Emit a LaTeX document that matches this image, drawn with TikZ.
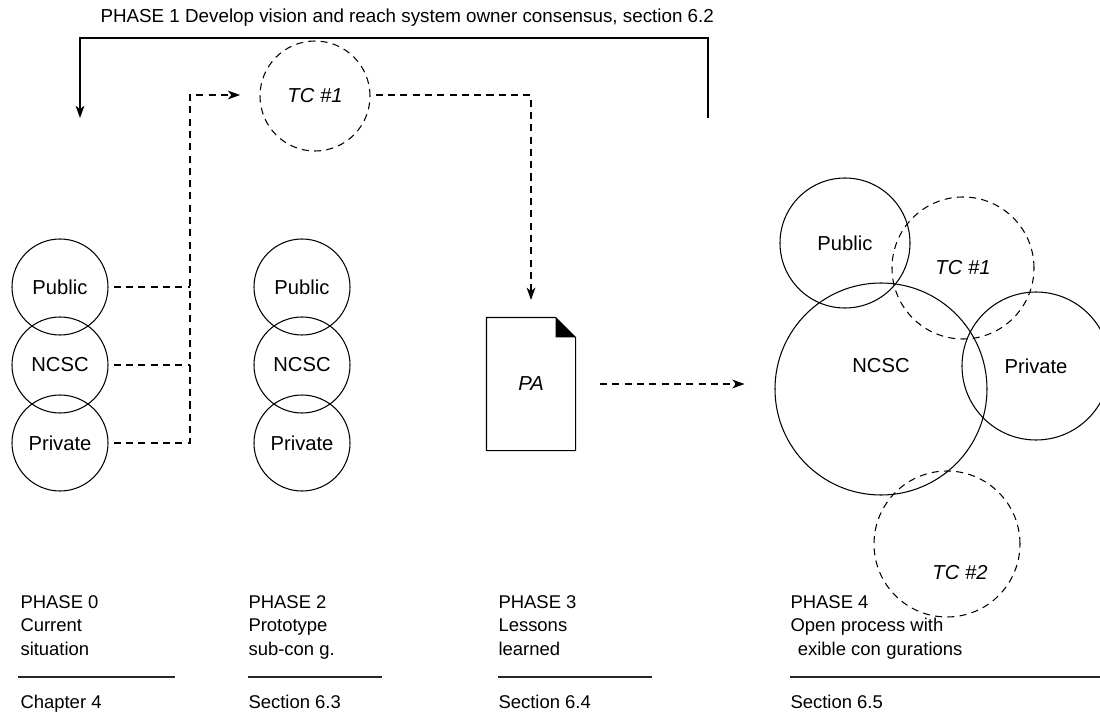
\documentclass[tikz,border=0pt]{standalone}
\usepackage{fontspec}
\setmainfont{Liberation Sans}
\usetikzlibrary{positioning,arrows.meta,calc}
\newcommand{\PartySize}{96}

\begin{document}
\begin{tikzpicture}[x=0.02cm,y=-0.02cm,line width=0.6pt,
		party/.style={circle,draw,inner sep=0pt,minimum size=\PartySize*0.02cm,font=\fontsize{11.5}{14}\selectfont},
		team/.style={party,dash pattern=on 4pt off 3pt},
		link/.style={dash pattern=on 4pt off 3pt},
		flow/.style={link,-{Stealth[length=7pt,width=5pt,inset=2pt]}},
		loop/.style={-{Stealth[length=7pt,width=5pt,inset=2pt]}},
		phase/.style={align=left,anchor=north west,inner sep=0pt,font=\fontsize{10.5}{13.3}\selectfont},
		rule/.style={line width=1pt,draw=black!85}]
	\useasboundingbox (0,0) rectangle (1100,720);
	\node[anchor=west,inner sep=0pt,font=\fontsize{10.7}{12}\selectfont] (title) at (100,18) {PHASE 1 Develop vision and reach system owner consensus, section 6.2};
	\coordinate (loopR) at (708,118);
	\coordinate (loopL) at (80,118);
	\draw[loop] (loopR) -- (loopR |- 0,38) -- (loopL |- 0,38) -- (loopL);

	\node[party] (pub0) at (60,287) {Public};
	\node[party] (ncsc0) at (60,365) {NCSC};
	\node[party] (priv0) at (60,443) {Private};

	\node[team,minimum size=110*0.02cm] (tc0) at (315,96) {\textit{TC \#1}};
	\node[party] (pub2) at (302,287) {Public};
	\node[party] (ncsc2) at (302,365) {NCSC};
	\node[party] (priv2) at (302,443) {Private};

	\node[minimum width=88*0.02cm,minimum height=132*0.02cm,inner sep=0pt,font=\fontsize{11.5}{14}\selectfont] (pa) at (531,384) {\textit{PA}};
	\draw (pa.north west) -- ($(pa.north east)+(-20,0)$) -- ($(pa.north east)+(0,20)$) -- (pa.south east) -- (pa.south west) -- cycle;
	\fill ($(pa.north east)+(-20,0)$) -- ($(pa.north east)+(0,20)$) -- ($(pa.north east)+(-20,20)$) -- cycle;

	\node[party,minimum size=212*0.02cm,text depth=48*0.02cm] (ncsc4) at (881,389) {NCSC};
	\node[party,minimum size=130*0.02cm] (pub4) at (845,243) {Public};
	\node[team,minimum size=142*0.02cm] (tc41) at (963,268) {\textit{TC \#1}};
	\node[party,minimum size=148*0.02cm] (priv4) at (1036,366) {Private};
	\node[team,minimum size=146*0.02cm] (tc42) at (947,544) {};
	\node[font=\fontsize{11.5}{14}\selectfont] (tc42text) at ($(tc42)+(13,29)$) {\textit{TC \#2}};

	\coordinate (bus) at (190,95);
	\draw[link,shorten <=3pt] (pub0.east) -- (pub0.east -| bus);
	\draw[link,shorten <=3pt] (ncsc0.east) -- (ncsc0.east -| bus);
	\draw[flow,shorten <=3pt,shorten >=11pt] (priv0.east) -| (bus) -- (bus -| tc0.west);
	\draw[flow,shorten <=3pt,shorten >=10pt] (bus -| tc0.east) -| (pa.north);
	\draw[flow,shorten <=14pt,shorten >=17pt] (pa.east) -- (pa.east -| ncsc4.west);

	\node[phase] (ph0) at (20,595) {PHASE 0\\Current\\situation};
	\node[phase] (ph2) at (248,595) {PHASE 2\\Prototype\\sub-con g.};
	\node[phase] (ph3) at (498,595) {PHASE 3\\Lessons\\learned};
	\node[phase] (ph4) at (790,595) {PHASE 4\\Open process with\\\hspace{0.4em}exible con\hspace{0.3em}gurations};
	\draw[rule] (18,677) -- (175,677);
	\draw[rule] (248,677) -- (382,677);
	\draw[rule] (498,677) -- (652,677);
	\draw[rule,line width=1.3pt] (790,677) -- (1100,677);
	\node[phase] (ch0) at (20,695) {Chapter 4};
	\node[phase] (ch2) at (248,695) {Section 6.3};
	\node[phase] (ch3) at (498,695) {Section 6.4};
	\node[phase] (ch4) at (790,695) {Section 6.5};
\end{tikzpicture}
\end{document}
